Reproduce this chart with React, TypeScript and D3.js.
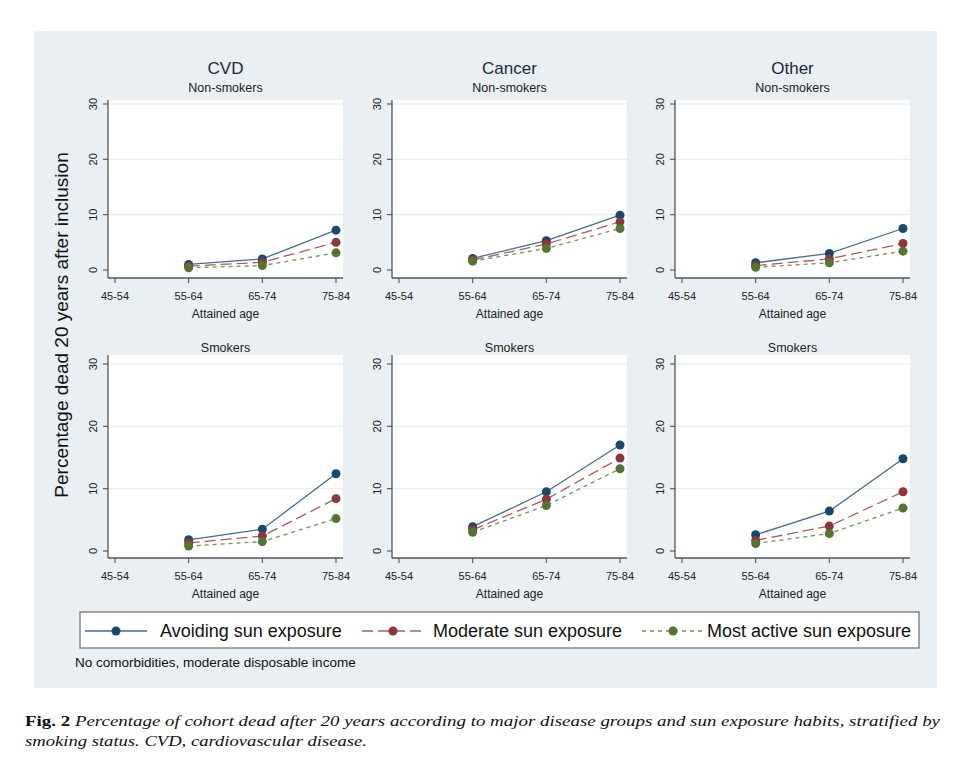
import { scaleLinear, scalePoint, line } from 'd3';

const ageGroups = ['45-54', '55-64', '65-74', '75-84'];
const plottedAges = ['55-64', '65-74', '75-84'];
const diseases = ['CVD', 'Cancer', 'Other'];
const smokingGroups = ['Non-smokers', 'Smokers'];
const exposureLabels = ['Avoiding sun exposure', 'Moderate sun exposure', 'Most active sun exposure'];
const yTicks = [0, 10, 20, 30];

// [avoiding, moderate, most active] per panel, values at 55-64, 65-74, 75-84
const cvdNonSmokers = [[1.0, 2.0, 7.2], [0.7, 1.4, 5.0], [0.4, 0.8, 3.1]];
const cancerNonSmokers = [[2.1, 5.3, 9.9], [1.8, 4.7, 8.7], [1.6, 3.9, 7.5]];
const otherNonSmokers = [[1.3, 3.0, 7.5], [0.8, 2.0, 4.8], [0.5, 1.3, 3.4]];
const cvdSmokers = [[1.8, 3.5, 12.4], [1.3, 2.4, 8.4], [0.8, 1.5, 5.2]];
const cancerSmokers = [[3.9, 9.5, 17.0], [3.4, 8.3, 14.9], [3.0, 7.3, 13.2]];
const otherSmokers = [[2.6, 6.4, 14.8], [1.7, 4.0, 9.5], [1.2, 2.8, 6.9]];

const panelData = [
  [cvdNonSmokers, cancerNonSmokers, otherNonSmokers],
  [cvdSmokers, cancerSmokers, otherSmokers],
];

const COLORS = ['#1a476f', '#90353b', '#55752f'];
const DASHES = ['none', '11,5', '4,4'];
const FONT = '"Liberation Sans", Arial, sans-serif';

const COL_X = [108, 392, 675];
const PLOT_W = 235;
const ROWS = [
  { top: 100, axisY: 278, y0: 270, y30: 104, subY: 92 },
  { top: 355, axisY: 558, y0: 551, y30: 364, subY: 352 },
];

function Panel({ row, col }: { row: number; col: number }) {
  const r = ROWS[row];
  const x0 = COL_X[col];
  const x = scalePoint<string>().domain(ageGroups).range([x0 + 7, x0 + PLOT_W - 7]);
  const y = scaleLinear().domain([0, 30]).range([r.y0, r.y30]);
  const cx = x0 + PLOT_W / 2;
  const path = line<number>()
    .x((_d, i) => x(plottedAges[i])!)
    .y((d) => y(d));
  const series = panelData[row][col];

  return (
    <g>
      <rect x={x0} y={r.top} width={PLOT_W} height={r.axisY - r.top} fill="#fff" />
      {yTicks.slice(1).map((t) => (
        <line key={t} x1={x0} x2={x0 + PLOT_W} y1={y(t)} y2={y(t)} stroke="#e6eef1" strokeWidth={1.2} />
      ))}
      {row === 0 && (
        <text x={cx} y={74} textAnchor="middle" fontSize={17} fill="#1c2a40" fontFamily={FONT}>
          {diseases[col]}
        </text>
      )}
      <text x={cx} y={r.subY} textAnchor="middle" fontSize={12.5} fill="#222" fontFamily={FONT}>
        {smokingGroups[row]}
      </text>
      {/* y axis */}
      <line x1={x0} x2={x0} y1={r.top} y2={r.axisY} stroke="#555" strokeWidth={1.3} />
      {yTicks.map((t) => (
        <g key={t}>
          <line x1={x0 - 5} x2={x0} y1={y(t)} y2={y(t)} stroke="#555" strokeWidth={1.1} />
          <text
            transform={`translate(${x0 - 15},${y(t)}) rotate(-90)`}
            textAnchor="middle"
            dominantBaseline="central"
            fontSize={11}
            fill="#222"
            fontFamily={FONT}
          >
            {t}
          </text>
        </g>
      ))}
      {/* x axis */}
      <line x1={x0} x2={x0 + PLOT_W} y1={r.axisY} y2={r.axisY} stroke="#555" strokeWidth={1.3} />
      {ageGroups.map((a) => (
        <g key={a}>
          <line x1={x(a)} x2={x(a)} y1={r.axisY} y2={r.axisY + 5} stroke="#555" strokeWidth={1.1} />
          <text x={x(a)} y={r.axisY + 22} textAnchor="middle" fontSize={11} fill="#222" fontFamily={FONT}>
            {a}
          </text>
        </g>
      ))}
      <text x={cx} y={r.axisY + 40} textAnchor="middle" fontSize={12} fill="#222" fontFamily={FONT}>
        Attained age
      </text>
      {series.map((vals, s) => (
        <path
          key={`l${s}`}
          d={path(vals)!}
          fill="none"
          stroke={COLORS[s]}
          strokeOpacity={0.8}
          strokeWidth={1.3}
          strokeDasharray={DASHES[s]}
        />
      ))}
      {series.map((vals, s) =>
        vals.map((v, i) => <circle key={`c${s}${i}`} cx={x(plottedAges[i])} cy={y(v)} r={4.5} fill={COLORS[s]} />),
      )}
    </g>
  );
}

const legendLineX = [85, 362, 642];
const legendTextX = [160, 433, 707];

export default function App() {
  return (
    <div style={{ position: 'absolute', left: 0, top: 0 }}>
      <svg width={969} height={770} viewBox="0 0 969 770">
        <rect width={969} height={770} fill="#fff" />
        <rect x={34} y={31} width={903} height={657} fill="#e9eff2" />
        <text
          transform="translate(68,325) rotate(-90)"
          textAnchor="middle"
          fontSize={19}
          fill="#111"
          fontFamily={FONT}
        >
          Percentage dead 20 years after inclusion
        </text>
        {[0, 1].map((row) => [0, 1, 2].map((col) => <Panel key={`${row}-${col}`} row={row} col={col} />))}
        {/* legend */}
        <rect x={80} y={612} width={839} height={36} fill="#fff" stroke="#777" strokeWidth={1.3} />
        {exposureLabels.map((lab, i) => (
          <g key={lab}>
            <line
              x1={legendLineX[i]}
              x2={legendLineX[i] + 62}
              y1={631}
              y2={631}
              stroke={COLORS[i]}
              strokeOpacity={0.8}
              strokeWidth={1.4}
              strokeDasharray={DASHES[i]}
            />
            <circle cx={legendLineX[i] + 31} cy={631} r={4.5} fill={COLORS[i]} />
            <text x={legendTextX[i]} y={637} fontSize={18} fill="#111" fontFamily={FONT}>
              {lab}
            </text>
          </g>
        ))}
        <text x={75} y={667} fontSize={13.5} fill="#111" fontFamily={FONT}>
          No comorbidities, moderate disposable income
        </text>
        {/* caption */}
        <text x={25} y={726} fontSize={15} fill="#111" fontFamily='"Liberation Serif", serif' textLength={915} lengthAdjust="spacingAndGlyphs">
          <tspan fontWeight="bold" fontStyle="normal">Fig. 2</tspan>
          <tspan fontStyle="italic">
            {' '}Percentage of cohort dead after 20 years according to major disease groups and sun exposure habits, stratified by
          </tspan>
        </text>
        <text x={25} y={746} fontSize={15} fill="#111" fontFamily='"Liberation Serif", serif' fontStyle="italic" textLength={342} lengthAdjust="spacingAndGlyphs">
          smoking status. CVD, cardiovascular disease.
        </text>
      </svg>
    </div>
  );
}
